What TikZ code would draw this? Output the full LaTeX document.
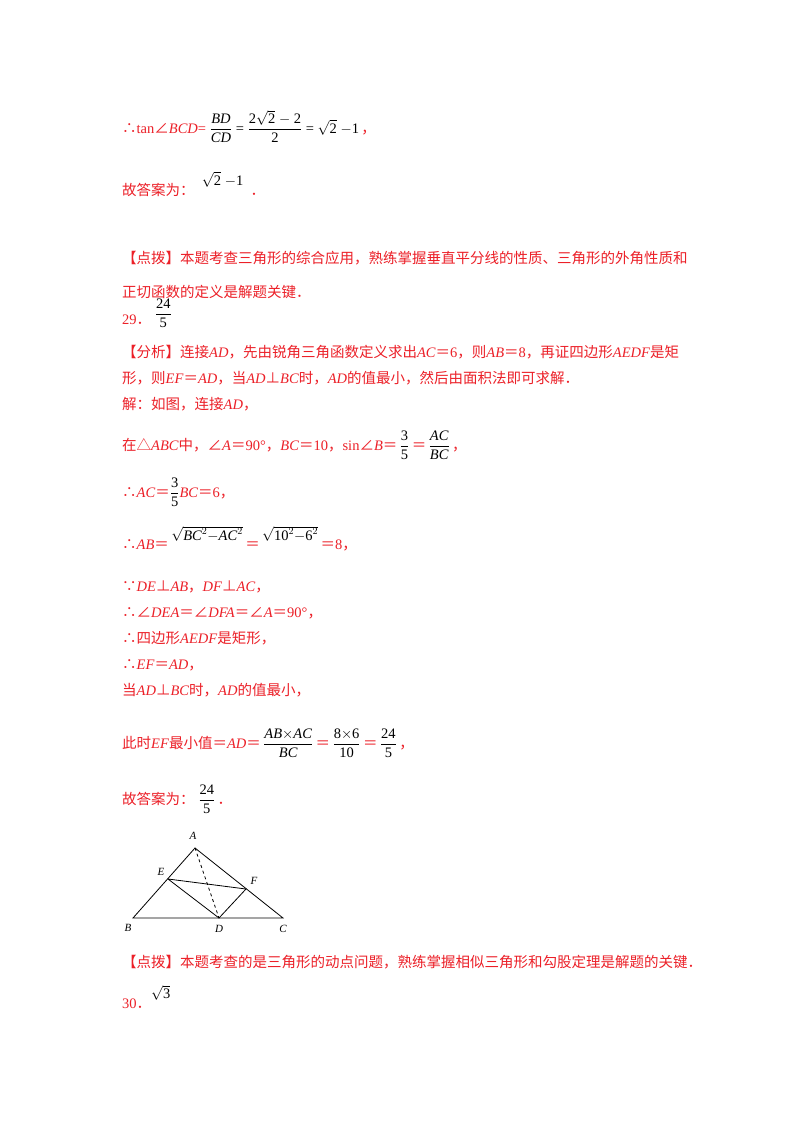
\documentclass[tikz,border=0pt]{standalone}
\usepackage{fontspec}
\setmainfont{Liberation Serif}
\newfontfamily\cjk{Noto Sans CJK SC}
\definecolor{rd}{RGB}{236,32,40}
\newcommand\zh[1]{{\cjk #1}}
\newcommand\I[1]{\textit{#1}}
\newcommand\blk[1]{{\color{black}#1}}
\newcommand\fr[2]{\ensuremath{\displaystyle\frac{\hbox{#1}}{\hbox{#2}}}}
\newcommand\sq[1]{\ensuremath{\sqrt{\hbox{#1}}}}
\begin{document}
\begin{tikzpicture}[x=1pt,y=-1pt,
  txt/.style={anchor=base west,inner sep=0pt,text=rd,font=\fontsize{14.5}{17}\selectfont},
  lbl/.style={inner sep=0pt,font=\fontsize{11}{11}\selectfont\itshape},
  seg/.style={line width=0.8pt}]
\useasboundingbox[fill=white] (0,0) rectangle (800,1132);
\node[txt] (l1) at (122,133) {\zh{∴}tan\zh{∠}\I{BCD}= \blk{\fr{\I{BD}}{\I{CD}} = \fr{2\sq{2} $-$ 2}{2} = \sq{2} $-$1}\,\zh{，}};
\node[txt] (l2) at (122,195) {\zh{故答案为：}\ \ \raisebox{10pt}{\blk{\sq{2} $-$1}}\ \ \zh{．}};
\node[txt] (l3) at (122,263) {\zh{【点拨】本题考查三角形的综合应用，熟练掌握垂直平分线的性质、三角形的外角性质和}};
\node[txt] (l4) at (122,297) {\zh{正切函数的定义是解题关键．}};
\node[txt] (l5) at (122,324) {29\zh{．}\ \raisebox{6pt}{\blk{\fr{24}{5}}}};
\node[txt] (l6) at (122,357) {\zh{【分析】连接}\I{AD}\zh{，先由锐角三角函数定义求出}\I{AC}\zh{＝}6\zh{，则}\I{AB}\zh{＝}8\zh{，再证四边形}\I{AEDF}\zh{是矩}};
\node[txt] (l7) at (122,383) {\zh{形，则}\I{EF}\zh{＝}\I{AD}\zh{，当}\I{AD}\zh{⊥}\I{BC}\zh{时，}\I{AD}\zh{的值最小，然后由面积法即可求解．}};
\node[txt] (l8) at (122,409) {\zh{解：如图，连接}\I{AD}\zh{，}};
\node[txt] (l9) at (122,450) {\zh{在△}\I{ABC}\zh{中，∠}\I{A}\zh{＝}90°\zh{，}\I{BC}\zh{＝}10\zh{，}sin\zh{∠}\I{B}\zh{＝}\,\blk{\fr{3}{5}}\,\zh{＝}\,\blk{\fr{\I{AC}}{\I{BC}}}\,\zh{，}};
\node[txt] (l10) at (122,497) {\zh{∴}\I{AC}\zh{＝}\blk{\fr{3}{5}}\I{BC}\zh{＝}6\zh{，}};
\node[txt] (l11) at (122,549) {\zh{∴}\I{AB}\zh{＝}\,\raisebox{9pt}{\blk{\sq{\I{BC}$^2-$\I{AC}$^2$}}}\,\zh{＝}\,\raisebox{9pt}{\blk{\sq{10$^2-$6$^2$}}}\,\zh{＝}8\zh{，}};
\node[txt] (l12) at (122,591) {\zh{∵}\I{DE}\zh{⊥}\I{AB}\zh{，}\I{DF}\zh{⊥}\I{AC}\zh{，}};
\node[txt] (l13) at (122,617) {\zh{∴∠}\I{DEA}\zh{＝∠}\I{DFA}\zh{＝∠}\I{A}\zh{＝}90°\zh{，}};
\node[txt] (l14) at (122,643) {\zh{∴四边形}\I{AEDF}\zh{是矩形，}};
\node[txt] (l15) at (122,669) {\zh{∴}\I{EF}\zh{＝}\I{AD}\zh{，}};
\node[txt] (l16) at (122,695) {\zh{当}\I{AD}\zh{⊥}\I{BC}\zh{时，}\I{AD}\zh{的值最小，}};
\node[txt] (l17) at (122,748) {\zh{此时}\I{EF}\zh{最小值＝}\I{AD}\zh{＝}\,\blk{\fr{\I{AB}$\times$\I{AC}}{\I{BC}}}\,\zh{＝}\,\blk{\fr{8$\times$6}{10}}\,\zh{＝}\,\blk{\fr{24}{5}}\,\zh{，}};
\node[txt] (l18) at (122,804) {\zh{故答案为：}\ \blk{\fr{24}{5}}\,\zh{．}};
\node[txt] (l20) at (122,967) {\zh{【点拨】本题考查的是三角形的动点问题，熟练掌握相似三角形和勾股定理是解题的关键．}};
\node[txt] (l21) at (122,1008) {30\zh{．}\raisebox{10pt}{\blk{\sq{3}}}};
% figure
\coordinate (A) at (195,848);
\coordinate (E) at (168,879);
\coordinate (F) at (246,889);
\coordinate (B) at (133,918);
\coordinate (D) at (219,918);
\coordinate (C) at (283,918);
\draw[seg] (A) -- (B) -- (C) -- cycle;
\draw[seg] (E) -- (F) -- (D) -- (E);
\draw[seg,dashed] (A) -- (D);
\node[lbl] (la) at (193,836) {A};
\node[lbl] (le) at (161,872) {E};
\node[lbl] (lf) at (254,881) {F};
\node[lbl] (lb) at (128,928) {B};
\node[lbl] (ld) at (219,929) {D};
\node[lbl] (lc) at (283,929) {C};
\end{tikzpicture}
\end{document}
